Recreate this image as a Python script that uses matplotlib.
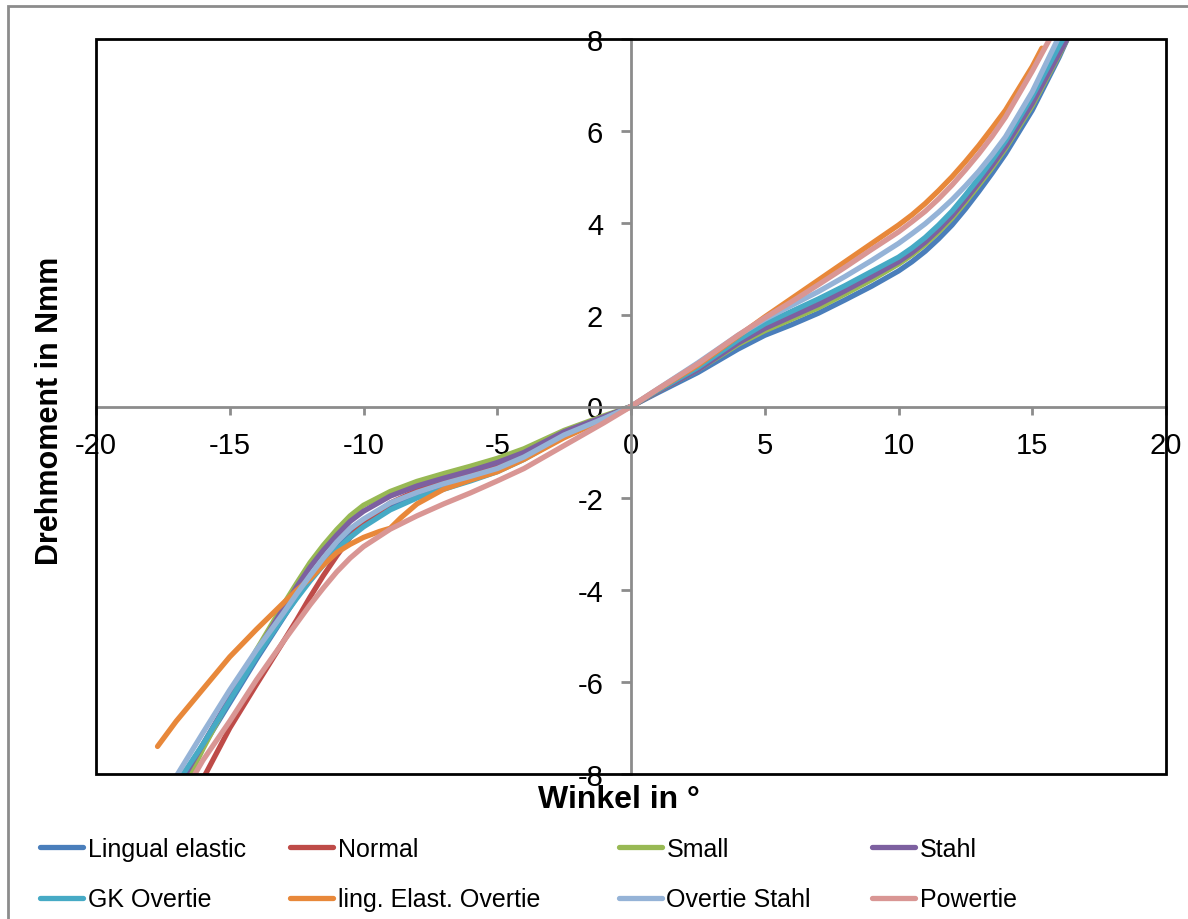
import matplotlib
matplotlib.use("Agg")
import matplotlib.pyplot as plt
from matplotlib.patches import Rectangle
from matplotlib.lines import Line2D

plt.rcParams['font.family'] = ['Liberation Sans', 'DejaVu Sans']
plt.rcParams['axes.unicode_minus'] = False

# torque curves, angle in degrees vs. torque in Nmm
names = ["Lingual elastic", "Normal", "Small", "Stahl",
         "GK Overtie", "ling. Elast. Overtie", "Overtie Stahl", "Powertie"]
colors = ["#4a7ebb", "#be4b48", "#98b954", "#7d60a0",
          "#46aac5", "#e8883a", "#95b3d7", "#d99694"]

# shared angle grids for the negative and positive branches
neg_x = [-16, -15, -14, -13, -12.5, -12, -11.5, -11, -10.5, -10, -9, -8, -7, -6, -5, -4, -2.5, -1, 0]
pos_x = [1, 2.5, 4, 5, 6, 7, 8, 9, 10, 10.5, 11, 11.5, 12, 12.5, 13, 13.5, 14, 15, 16]

lingual_x = [-16.65] + neg_x + pos_x + [16.35]
lingual_y = [-8.05, -7.4, -6.45, -5.5, -4.6, -4.15, -3.74, -3.36, -3.02, -2.73, -2.5, -2.15, -1.9, -1.72,
             -1.55, -1.37, -1.12, -0.6, -0.25, 0,
             0.3, 0.74, 1.25, 1.55, 1.78, 2.03, 2.32, 2.62, 2.95, 3.15, 3.38, 3.65, 3.95, 4.3, 4.68,
             5.08, 5.5, 6.45, 7.6, 8.05]

normal_x = [-15.95] + neg_x[1:] + pos_x[:-1] + [16.3]
normal_y = [-8.05, -7.0, -6.05, -5.12, -4.65, -4.15, -3.68, -3.25, -2.85, -2.53, -2.1, -1.83, -1.66,
            -1.5, -1.32, -1.08, -0.58, -0.24, 0,
            0.33, 0.82, 1.4, 1.72, 1.99, 2.26, 2.56, 2.88, 3.2, 3.4, 3.63, 3.9, 4.2, 4.55, 4.92,
            5.3, 5.72, 6.65, 8.05]

small_x = [-16.5] + neg_x + pos_x + [16.35]
small_y = [-8.05, -7.45, -6.35, -5.3, -4.32, -3.85, -3.4, -3.02, -2.68, -2.38, -2.15, -1.85, -1.63,
           -1.46, -1.3, -1.13, -0.92, -0.52, -0.2, 0,
           0.33, 0.8, 1.35, 1.65, 1.9, 2.15, 2.45, 2.76, 3.1, 3.3, 3.53, 3.8, 4.1, 4.45, 4.82,
           5.2, 5.62, 6.55, 7.65, 8.05]

stahl_x = [-16.7] + neg_x + pos_x + [16.35]
stahl_y = [-8.05, -7.35, -6.35, -5.35, -4.4, -3.93, -3.5, -3.13, -2.8, -2.5, -2.28, -1.95, -1.73,
           -1.56, -1.4, -1.22, -1.0, -0.55, -0.22, 0,
           0.33, 0.8, 1.38, 1.7, 1.96, 2.22, 2.52, 2.83, 3.15, 3.35, 3.58, 3.85, 4.15, 4.5, 4.87,
           5.25, 5.66, 6.6, 7.68, 8.05]

gk_x = [-16.8] + neg_x + pos_x + [16.2]
gk_y = [-8.05, -7.35, -6.4, -5.45, -4.58, -4.18, -3.8, -3.45, -3.12, -2.85, -2.62, -2.25, -1.99,
        -1.8, -1.62, -1.42, -1.15, -0.65, -0.27, 0,
        0.35, 0.85, 1.45, 1.8, 2.07, 2.34, 2.63, 2.94, 3.25, 3.45, 3.68, 3.95, 4.25, 4.6, 4.97,
        5.36, 5.78, 6.75, 7.85, 8.05]

ling_ov_x = [-17.7, -17, -16, -15, -14, -13, -12.5, -12, -11.5, -11, -10.5, -10, -9.4, -9, -8.6, -8,
             -7, -6, -5, -4, -2.5, -1, 0] + pos_x[:-1] + [15.36]
ling_ov_y = [-7.4, -6.85, -6.15, -5.45, -4.85, -4.28, -4.0, -3.75, -3.45, -3.18, -3.0, -2.85, -2.72,
             -2.65, -2.42, -2.12, -1.8, -1.6, -1.42, -1.15, -0.68, -0.28, 0,
             0.37, 0.9, 1.53, 1.95, 2.35, 2.75, 3.15, 3.55, 3.95, 4.17, 4.42, 4.7, 5.0, 5.33, 5.68,
             6.06, 6.45, 7.4, 7.8]

ov_stahl_x = [-17.0] + neg_x + pos_x
ov_stahl_y = [-8.05, -7.1, -6.17, -5.3, -4.5, -4.08, -3.68, -3.3, -2.95, -2.66, -2.45, -2.1, -1.87,
              -1.68, -1.52, -1.35, -1.1, -0.62, -0.26, 0,
              0.38, 0.95, 1.55, 1.9, 2.2, 2.5, 2.83, 3.18, 3.55, 3.76, 3.98, 4.23, 4.5, 4.8, 5.12,
              5.48, 5.87, 6.85, 8.05]

powertie_x = [-16.35] + neg_x + pos_x[:-1] + [15.7]
powertie_y = [-8.05, -7.7, -6.85, -5.95, -5.12, -4.72, -4.32, -3.95, -3.6, -3.3, -3.05, -2.67, -2.38,
              -2.12, -1.88, -1.62, -1.35, -0.85, -0.35, 0,
              0.38, 0.93, 1.55, 1.93, 2.28, 2.65, 3.03, 3.42, 3.8, 4.02, 4.25, 4.52, 4.82, 5.15, 5.5,
              5.88, 6.3, 7.3, 8.05]

series_x = [lingual_x, normal_x, small_x, stahl_x, gk_x, ling_ov_x, ov_stahl_x, powertie_x]
series_y = [lingual_y, normal_y, small_y, stahl_y, gk_y, ling_ov_y, ov_stahl_y, powertie_y]

W, H = 1188, 920
fig = plt.figure(figsize=(W / 100, H / 100), dpi=100)

# chart area border (only top/left fall inside the image)
fig.patches.append(Rectangle((8 / W, -0.1), 1.2, (H - 7) / H + 0.1, transform=fig.transFigure,
                             fill=False, edgecolor="#8c8c8c", linewidth=2))

ax = fig.add_axes([96 / W, (H - 775) / H, (1166 - 96) / W, (775 - 40) / H])
for x, y, c, n in zip(series_x, series_y, colors, names):
    ax.plot(x, y, color=c, linewidth=3.8, solid_capstyle="round",
            solid_joinstyle="round", label=n)

ax.set_xlim(-20, 20)
ax.set_ylim(-8, 8)
ax.set_xticks(range(-20, 21, 5))
ax.set_yticks(range(-8, 9, 2))

for side in ("top", "right"):
    ax.spines[side].set_visible(False)
for side in ("left", "bottom"):
    ax.spines[side].set_position("zero")
    ax.spines[side].set_color("#8c8c8c")
    ax.spines[side].set_linewidth(2)
ax.tick_params(axis="y", direction="out", length=7, width=2, color="#8c8c8c",
               labelsize=21, pad=13)
ax.tick_params(axis="x", direction="out", length=6, width=2, color="#8c8c8c",
               labelsize=21, pad=12)

# plot area frame
ax.add_patch(Rectangle((0, 0), 1, 1, transform=ax.transAxes, fill=False,
                       edgecolor="black", linewidth=2, clip_on=False, zorder=5))

fig.text(619 / W, 1 - 800 / H, "Winkel in °", fontsize=23, fontweight="bold",
         ha="center", va="center")
fig.text(50 / W, 1 - 411 / H, "Drehmoment in Nmm", fontsize=22, fontweight="bold",
         ha="center", va="center", rotation=90)

# legend laid out as four columns of two entries
col_left = [40, 290, 619, 872]
for col in range(4):
    hs = [Line2D([], [], color=colors[i], linewidth=3.8, solid_capstyle="round")
          for i in (col, col + 4)]
    ls = [names[col], names[col + 4]]
    fig.legend(hs, ls, loc="upper left", bbox_to_anchor=(col_left[col] / W, 1 - 838 / H),
               frameon=False, fontsize=18, handlelength=1.7, handletextpad=0.2,
               labelspacing=1.05, borderpad=0, borderaxespad=0)

fig.savefig("out.png", dpi=100)
